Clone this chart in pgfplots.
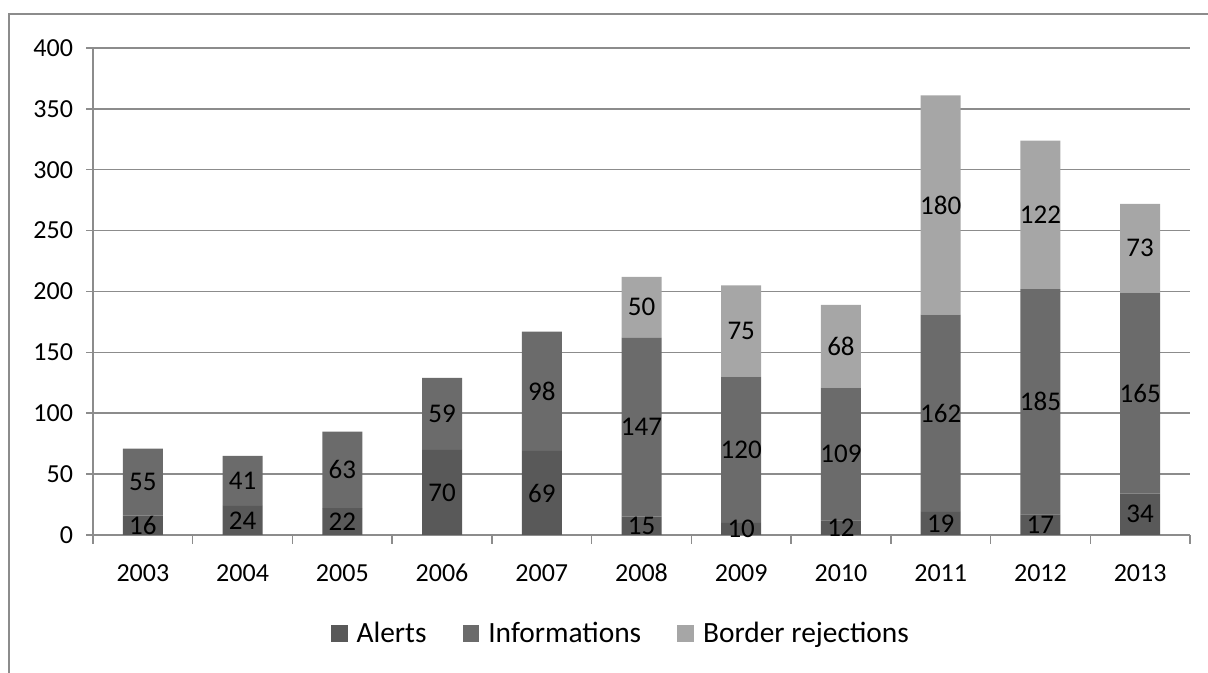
\documentclass[border=0pt]{standalone}
\usepackage{fontspec}
\setmainfont{Carlito}
\usepackage{pgfplots}
\usepackage{pgfplotstable}
\pgfplotsset{compat=1.18}
\definecolor{alertc}{HTML}{595959}
\definecolor{infoc}{HTML}{6B6B6B}
\definecolor{borderc}{HTML}{A6A6A6}
\definecolor{gridc}{HTML}{8C8C8C}
\pgfplotstableread{
x year A I B
0 2003 16 55 0
1 2004 24 41 0
2 2005 22 63 0
3 2006 70 59 0
4 2007 69 98 0
5 2008 15 147 50
6 2009 10 120 75
7 2010 12 109 68
8 2011 19 162 180
9 2012 17 185 122
10 2013 34 165 73
}\data
\newcommand{\lblfont}{\fontsize{13.5}{15}\selectfont}
\newcommand{\tickfont}{\fontsize{13}{15}\selectfont}
\begin{document}
\begin{tikzpicture}
\path[use as bounding box] (0,0) rectangle (604pt,336.5pt);
\draw[gridc, line width=1pt] (4.5pt,-2pt) -- (4.5pt,329.5pt) -- (606pt,329.5pt);
\pgfplotsset{
  common/.style={
    at={(46.5pt,69pt)}, anchor=south west,
    width=548.5pt, height=243.5pt, scale only axis,
    xmin=-0.5, xmax=10.5, ymin=0, ymax=400,
  }
}
\begin{axis}[common,
  ybar stacked, bar width=20pt,
  axis x line*=bottom, axis y line*=left,
  x axis line style={-, gridc, line width=0.75pt},
  y axis line style={-, gridc, line width=0.75pt},
  ytick={0,50,...,400},
  ymajorgrids, major grid style={gridc, line width=0.75pt},
  xtick={0,...,10}, xticklabels={2003,2004,2005,2006,2007,2008,2009,2010,2011,2012,2013},
  minor xtick={-0.5,0.5,...,10.5},
  tick align=outside,
  major x tick style={draw=none},
  minor tick style={gridc, line width=0.75pt},
  major y tick style={gridc, line width=0.75pt},
  major tick length=3.5pt, minor tick length=4.5pt,
  /pgf/number format/assume math mode=true,
  xticklabel style={font=\tickfont, anchor=base, yshift=-20pt},
  yticklabel style={font=\tickfont, anchor=east, xshift=-3pt},
  legend style={at={(0.482,-0.203)}, anchor=center, draw=none, legend columns=3,
    font=\fontsize{14.7}{17}\selectfont,
    /tikz/every odd column/.append style={column sep=2.5pt},
    /tikz/every even column/.append style={column sep=16pt}},
  legend image code/.code={\fill[#1] (0pt,-4.2pt) rectangle (8.4pt,4.2pt);},
]
\addplot[fill=alertc, draw=none] table[x=x, y=A] {\data};
\addplot[fill=infoc, draw=none] table[x=x, y=I] {\data};
\addplot[fill=borderc, draw=none] table[x=x, y=B] {\data};
\legend{Alerts, Informations, Border rejections}
\end{axis}
\begin{axis}[common, hide axis,
  nodes near coords, nodes near coords align={center},
  every node near coord/.append style={font=\lblfont, text=black},
  point meta=explicit symbolic]
\addplot[only marks, mark=none] table[x=x, y expr=\thisrow{A}/2, meta=A] {\data};
\addplot[only marks, mark=none] table[x=x, y expr=\thisrow{A}+\thisrow{I}/2, meta=I] {\data};
\addplot[only marks, mark=none, restrict x to domain=5:10] table[x=x, y expr=\thisrow{A}+\thisrow{I}+\thisrow{B}/2, meta=B] {\data};
\end{axis}
\end{tikzpicture}
\end{document}
